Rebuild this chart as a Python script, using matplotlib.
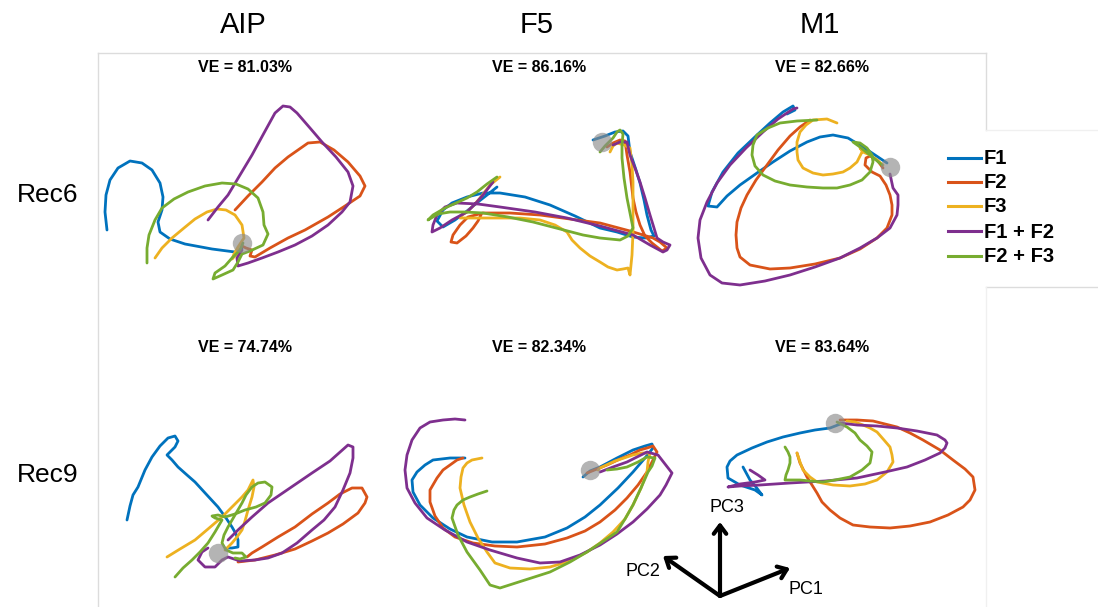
import numpy as np
import matplotlib
matplotlib.use("Agg")
import matplotlib.pyplot as plt

plt.rcParams['font.family'] = ['Liberation Sans', 'DejaVu Sans']

# condition names and MATLAB default colours
conditions = ["F1", "F2", "F3", "F1 + F2", "F2 + F3"]
colors = ["#0072BD", "#D95319", "#EDB120", "#7E2F8E", "#77AC30"]

areas = ["AIP", "F5", "M1"]
recordings = ["Rec6", "Rec9"]
ve_rec6 = [81.03, 86.16, 82.66]
ve_rec9 = [74.74, 82.34, 83.64]

# trajectories projected on PC1-PC3 (screen units)
aip_rec6 = {
    "F1": [(107,230),(105,212),(106,195),(110,180),(118,168),(130,161),(142,163),(152,170),(160,183),(163,197),(162,210),(158,222),(160,232),(170,239),(185,244),(212,249),(235,252),(242,248)],
    "F2": [(235,210),(248,196),(262,182),(275,168),(288,157),(308,143),(320,142),(334,150),(348,162),(360,176),(365,186),(360,196),(345,206),(328,217),(305,230),(288,238),(270,248),(255,257),(250,256),(252,250),(246,248),(242,246)],
    "F3": [(155,258),(162,248),(172,238),(184,228),(195,219),(207,212),(217,209),(226,210),(235,215),(242,225),(244,238),(238,247),(234,254),(232,259),(236,255),(240,249)],
    "F1 + F2": [(208,220),(218,207),(228,195),(240,175),(252,155),(264,133),(275,113),(283,106),(290,107),(297,113),(310,128),(322,142),(336,157),(348,172),(353,186),(350,202),(342,212),(328,225),(312,236),(295,245),(278,252),(262,258),(248,263),(238,266),(237,258),(242,250)],
    "F2 + F3": [(147,263),(147,248),(149,235),(155,220),(162,208),(174,199),(188,192),(205,186),(222,183),(236,184),(248,189),(258,198),(263,212),(264,225),(268,234),(263,245),(250,251),(242,254),(238,262),(233,270),(222,275),(213,279),(215,273),(225,266),(232,258),(240,250),(243,243)],
}
f5_rec6 = {
    "F1": [(593,140),(605,136),(615,132),(623,131),(628,136),(630,152),(636,170),(640,183),(644,200),(647,215),(651,230),(654,236),(645,238),(633,237),(617,232),(600,228),(575,216),(550,205),(525,197),(500,193),(483,193),(467,197),(452,203),(443,210),(437,221),(443,227),(455,220),(467,211),(478,202),(487,195),(497,187)],
    "F2": [(607,147),(613,143),(620,140),(625,141),(627,155),(630,172),(633,198),(636,212),(640,225),(645,236),(652,243),(662,251),(667,248),(660,242),(653,238),(630,231),(600,223),(570,219),(540,215),(510,213),(483,213),(468,217),(460,225),(453,235),(451,242),(457,243),(466,236),(473,228),(478,221),(481,215)],
    "F3": [(610,152),(613,146),(617,143),(624,145),(630,148),(632,165),(633,182),(633,207),(633,232),(632,255),(630,275),(628,268),(623,269),(617,270),(608,267),(600,262),(590,256),(580,248),(572,240),(567,232),(555,225),(540,220),(520,218),(500,218),(480,218),(460,218),(462,215),(467,212),(474,205),(480,198),(490,185),(500,177)],
    "F1 + F2": [(613,145),(620,142),(627,142),(630,155),(635,168),(640,182),(645,198),(650,215),(654,228),(657,238),(663,242),(670,245),(667,250),(663,252),(650,245),(633,235),(600,226),(567,218),(535,212),(500,207),(478,204),(457,203),(445,207),(437,215),(433,225),(432,232),(440,228),(452,220),(467,212),(476,203),(483,195),(493,182)],
    "F2 + F3": [(600,152),(605,146),(613,138),(617,132),(620,130),(623,134),(622,145),(622,158),(624,178),(627,198),(630,213),(633,228),(628,236),(620,240),(600,238),(583,235),(560,229),(533,222),(508,217),(483,213),(465,212),(450,212),(438,214),(428,220),(433,215),(445,208),(456,203),(467,198),(477,192),(487,184),(497,177)],
}
m1_rec6 = {
    "F1": [(887,163),(875,155),(863,147),(848,138),(833,135),(820,137),(807,142),(790,151),(773,162),(757,173),(740,185),(727,196),(717,207),(708,206),(712,192),(723,172),(738,153),(757,135),(770,123),(783,112),(793,106),(795,110),(787,114)],
    "F2": [(883,168),(877,160),(870,156),(866,158),(865,165),(872,172),(880,176),(886,185),(890,195),(892,205),(892,215),(887,228),(877,238),(860,249),(840,258),(815,264),(790,268),(770,269),(750,265),(740,257),(737,248),(736,235),(737,222),(741,208),(747,195),(756,180),(767,165),(778,150),(790,136),(800,127),(810,120)],
    "F3": [(883,165),(877,160),(870,155),(863,152),(860,148),(863,150),(860,156),(857,162),(850,168),(843,172),(833,174),(823,175),(813,173),(803,168),(798,160),(797,152),(797,142),(800,132),(806,125),(813,120),(827,119),(837,123)],
    "F1 + F2": [(890,174),(893,188),(898,195),(898,205),(897,215),(890,228),(877,238),(860,248),(840,258),(815,267),(790,275),(765,281),(740,285),(722,283),(710,275),(701,258),(698,238),(700,220),(707,202),(717,183),(730,165),(746,148),(763,132),(778,119),(793,109),(797,108)],
    "F2 + F3": [(882,165),(870,155),(860,147),(853,142),(860,143),(867,148),(872,155),(873,162),(870,172),(862,180),(850,185),(837,188),(823,188),(807,187),(790,185),(775,181),(763,175),(755,166),(752,155),(753,145),(757,135),(768,128),(780,123),(797,121),(817,120)],
}
aip_rec9 = {
    "F1": [(127,520),(130,506),(133,495),(138,487),(145,470),(152,457),(160,446),(168,438),(175,436),(178,441),(175,447),(167,455),(172,460),(178,467),(187,475),(195,482),(206,494),(218,507),(226,518),(232,527),(236,534),(238,540),(238,547),(232,548),(228,548)],
    "F2": [(238,562),(255,560),(275,555),(295,549),(312,541),(328,533),(343,524),(358,513),(365,503),(367,497),(362,488),(352,488),(340,494),(328,503),(312,514),(295,527),(278,537),(262,547),(252,553),(247,557)],
    "F3": [(167,557),(180,549),(195,540),(208,529),(222,517),(232,507),(242,497),(248,490),(253,480),(254,487),(252,497),(248,510),(245,521),(242,530),(237,537),(232,543),(225,550)],
    "F1 + F2": [(228,540),(238,530),(252,517),(268,503),(290,488),(312,473),(330,461),(348,445),(353,447),(353,458),(350,473),(343,490),(335,507),(324,520),(312,530),(297,543),(282,553),(268,558),(255,560),(240,561),(228,557),(222,560),(215,567),(205,567),(198,560),(202,552),(208,548)],
    "F2 + F3": [(175,577),(183,568),(192,560),(200,552),(208,543),(215,532),(222,520),(215,518),(212,516),(218,515),(225,517),(235,514),(245,510),(256,507),(265,503),(271,495),(272,487),(265,482),(258,483),(252,487),(246,495),(242,503),(235,515),(228,527),(224,535),(222,543),(226,550),(233,553),(242,553),(246,557),(240,559),(235,558)],
}
f5_rec9 = {
    "F1": [(583,477),(590,471),(600,467),(617,458),(633,450),(645,446),(652,444),(653,448),(645,458),(633,472),(618,488),(600,505),(585,517),(567,528),(545,537),(517,542),(492,542),(467,537),(450,529),(433,518),(420,505),(413,492),(412,480),(417,472),(425,465),(433,460),(450,458),(465,458)],
    "F2": [(587,473),(597,469),(607,465),(620,459),(630,455),(640,450),(647,448),(653,446),(657,452),(652,462),(647,472),(638,485),(627,498),(615,510),(600,522),(585,531),(567,538),(545,544),(517,547),(495,546),(473,543),(455,537),(443,528),(435,516),(430,502),(430,490),(437,478),(443,470),(450,465),(457,460),(463,458)],
    "F3": [(598,470),(600,468),(615,461),(633,455),(642,453),(650,453),(648,462),(647,472),(641,488),(633,505),(625,519),(613,532),(600,543),(587,552),(570,561),(550,567),(530,569),(510,568),(495,563),(487,552),(478,538),(470,522),(464,505),(460,488),(461,477),(463,468),(467,463),(472,460),(482,458)],
    "F1 + F2": [(600,472),(613,467),(627,462),(637,457),(647,452),(658,455),(665,464),(672,473),(666,485),(660,495),(647,509),(633,522),(617,534),(600,545),(580,555),(560,562),(540,563),(517,558),(490,550),(467,542),(445,530),(427,518),(415,503),(407,488),(405,470),(407,455),(412,440),(420,428),(430,422),(443,420),(455,419),(465,420)],
    "F2 + F3": [(607,470),(617,469),(627,467),(638,462),(647,457),(655,458),(652,466),(648,472),(641,488),(633,505),(625,519),(617,532),(602,542),(587,552),(570,562),(550,572),(525,580),(500,588),(490,585),(480,570),(467,552),(458,535),(452,518),(454,510),(457,505),(463,500),(470,497),(478,494),(487,491)],
}
m1_rec9 = {
    "F1": [(843,423),(830,428),(815,430),(800,433),(783,437),(767,442),(752,448),(737,455),(730,461),(727,467),(728,478),(740,485),(755,490),(762,495),(756,487),(750,480),(743,467)],
    "F2": [(840,420),(857,420),(873,421),(897,427),(910,433),(923,440),(940,450),(953,460),(965,469),(973,477),(975,490),(970,500),(963,507),(948,515),(930,522),(910,526),(890,528),(870,527),(853,525),(840,518),(830,510),(822,502),(817,493),(812,485),(807,477),(803,469),(800,463),(797,453)],
    "F3": [(797,453),(800,462),(803,470),(810,477),(817,482),(833,485),(850,486),(865,484),(877,480),(887,472),(893,462),(892,455),(890,447),(884,440),(877,432),(870,428),(863,425),(855,422),(847,421)],
    "F1 + F2": [(840,423),(857,425),(877,426),(897,428),(917,431),(937,435),(945,440),(947,443),(945,448),(940,453),(925,460),(907,467),(885,472),(857,478),(825,481),(790,483),(760,485),(740,486),(728,487),(740,484),(755,482),(765,480),(758,475),(750,470)],
    "F2 + F3": [(837,422),(847,427),(855,433),(860,440),(867,446),(872,452),(871,458),(870,463),(862,470),(850,477),(835,480),(823,482),(810,481),(800,480),(785,480),(786,475),(788,470),(790,463),(790,457),(788,452),(785,447)],
}
# start points (grey dots)
starts_rec6 = [(242,243), (602,142), (890,167)]
starts_rec9 = [(218,553), (590,470), (835,423)]

panels_rec6 = [aip_rec6, f5_rec6, m1_rec6]
panels_rec9 = [aip_rec9, f5_rec9, m1_rec9]

W, H = 1098, 607
fig = plt.figure(figsize=(W / 100, H / 100), dpi=100)
ax = fig.add_axes([0, 0, 1, 1])
ax.set_xlim(0, W)
ax.set_ylim(H, 0)
ax.axis('off')

# faint panel frame
frame_kw = dict(color='#dcdcdc', lw=1, zorder=0)
ax.plot([98, 98], [53, H], **frame_kw)
ax.plot([98, 986], [53, 53], **frame_kw)
ax.plot([986, 986], [53, 130], **frame_kw)
ax.plot([986, W], [130, 130], color='#f0f0f0', lw=1, zorder=0)
ax.plot([986, W], [287, 287], **frame_kw)
ax.plot([986, 986], [287, H], color='#f0f0f0', lw=1, zorder=0)

for panels, starts in [(panels_rec6, starts_rec6), (panels_rec9, starts_rec9)]:
    for traj, st in zip(panels, starts):
        for cond, col in zip(conditions, colors):
            pts = np.array(traj[cond])
            ax.plot(pts[:, 0], pts[:, 1], color=col, lw=2,
                    solid_joinstyle='round', solid_capstyle='round', zorder=2)
        ax.plot(st[0], st[1], 'o', ms=14, color='#8c8c8c', alpha=0.65,
                mec='none', zorder=3)

# column and row labels
area_x = [243, 537, 820]
for name, x in zip(areas, area_x):
    ax.text(x, 25, name, fontsize=21, ha='center', va='center')
for v, x in zip(ve_rec6, area_x):
    ax.text(x + 2, 68, "VE = %.2f%%" % v, fontsize=11.5, fontweight='bold',
            ha='center', va='center')
for v, x in zip(ve_rec9, area_x):
    ax.text(x + 2, 347, "VE = %.2f%%" % v, fontsize=11.5, fontweight='bold',
            ha='center', va='center')
ax.text(48, 195, recordings[0], fontsize=19, ha='center', va='center')
ax.text(48, 475, recordings[1], fontsize=19, ha='center', va='center')

# legend
leg_y = [158, 182, 206, 231, 256]
for cond, col, y in zip(conditions, colors, leg_y):
    ax.plot([948, 981], [y, y], color=col, lw=2.2)
    ax.text(984, y + 1, cond, fontsize=14.5, fontweight='bold',
            ha='left', va='center')

# PC axes glyph
o = (720, 596)
arrow_kw = dict(arrowstyle='->, head_length=0.6, head_width=0.45', lw=3,
                color='black', shrinkA=0, shrinkB=0)
for tip in [(720, 522), (663, 556), (790, 568)]:
    ax.annotate("", xy=tip, xytext=o, arrowprops=arrow_kw)
ax.text(727, 507, "PC3", fontsize=13, ha='center', va='center')
ax.text(643, 571, "PC2", fontsize=13, ha='center', va='center')
ax.text(806, 590, "PC1", fontsize=13, ha='center', va='center')

fig.savefig("out.png", dpi=100)
